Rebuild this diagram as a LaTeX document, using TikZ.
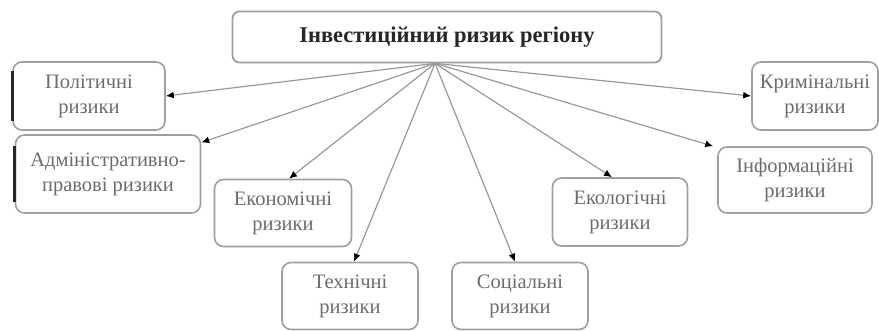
\documentclass[tikz,border=0pt]{standalone}
\usepackage{fontspec}
\setmainfont{Liberation Serif}
\usepackage{tikz}
\usetikzlibrary{arrows.meta}
\usetikzlibrary{positioning}
\tikzstyle{risk} = [rectangle, rounded corners=9pt, draw=gray!75, line width=1.6pt, align=center, font=\fontsize{20.5}{25}\selectfont, text=gray!85!black, minimum width=136pt, minimum height=67pt]
\tikzstyle{main} = [rectangle, rounded corners=7pt, draw=gray!75, line width=1.8pt, align=center, font=\fontsize{22.5}{26}\selectfont\bfseries, text=black!85, minimum width=429pt, minimum height=51pt]
\tikzstyle{arrow} = [gray!80, line width=1.2pt, -{Latex[black, length=8pt, width=7pt]}]
\tikzstyle{bar} = [line width=2.8pt, black!85]

\begin{document}
\begin{tikzpicture}[x=1pt, y=-1pt]
    \useasboundingbox (0,0) rectangle (879,331);
    \node(top)[main] at (447,37) {Інвестиційний ризик регіону};
    \coordinate(hub) at ([xshift=-12pt]top.south);
    %
    \node(pol)[risk, minimum width=152pt, minimum height=68pt] at (89,96) {Політичні\\ризики};
    \node(adm)[risk, minimum width=185pt, minimum height=78pt] at (108,174) {Адміністративно-\\правові ризики};
    \node(ekon)[risk, minimum width=137pt] at (283,213) {Економічні\\ризики};
    \node(tech)[risk] at (350,296) {Технічні\\ризики};
    \node(soc)[risk] at (520,296) {Соціальні\\ризики};
    \node(ekol)[risk, minimum width=135pt, minimum height=68pt] at (620,212) {Екологічні\\ризики};
    \node(info)[risk, minimum width=154pt, minimum height=66pt] at (795,180) {Інформаційні\\ризики};
    \node(krim)[risk, minimum width=126pt, minimum height=68pt] at (815,96) {Кримінальні\\ризики};
    %
    \draw[bar] ([yshift=-10pt]pol.north west) -- ([yshift=10pt]pol.south west);
    \draw[bar] ([yshift=-12pt]adm.north west) -- ([yshift=12pt]adm.south west);
    %
    \draw[arrow](hub) -- (pol.east);
    \draw[arrow](hub) -- (adm);
    \draw[arrow](hub) -- ([xshift=6pt]ekon.north);
    \draw[arrow](hub) -- ([xshift=4pt]tech.north);
    \draw[arrow](hub) -- ([xshift=-5pt]soc.north);
    \draw[arrow](hub) -- ([xshift=-8pt]ekol.north);
    \draw[arrow](hub) -- ([xshift=-4pt]info.north west);
    \draw[arrow](hub) -- (krim.west);
\end{tikzpicture}
\end{document}
